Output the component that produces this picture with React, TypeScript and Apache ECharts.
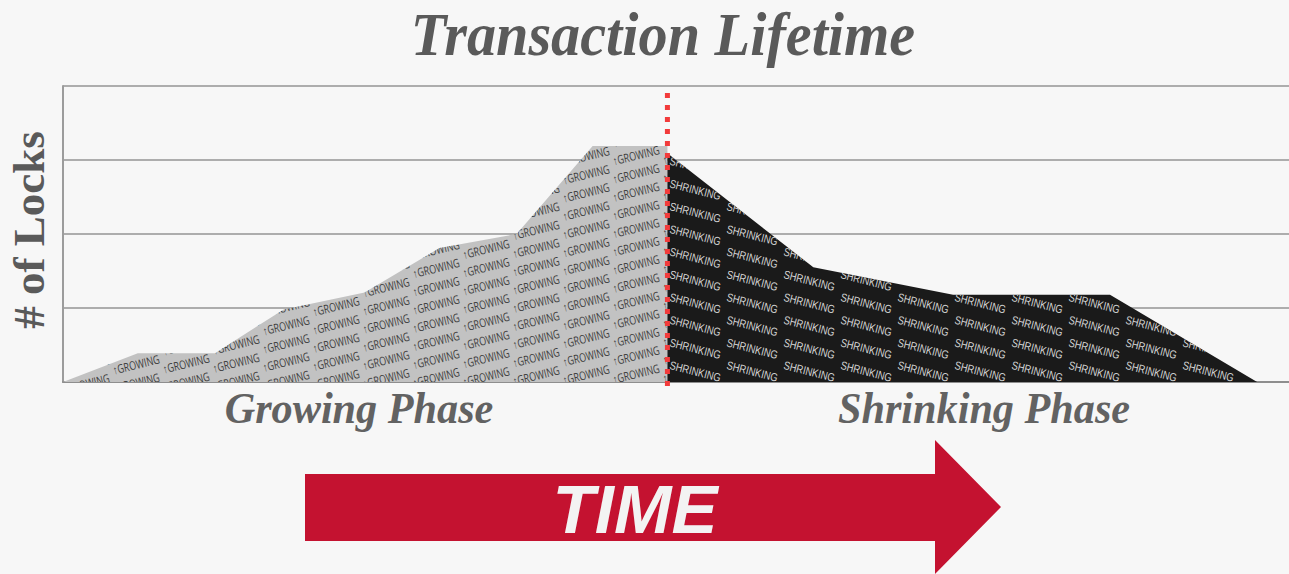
import React, { useEffect, useRef } from "react";
import * as echarts from "echarts";

// ---- data (time on x, number of locks held on y) ----
const growTime = [0, 6.1, 12.4, 18.0, 24.6, 30.7, 37.0, 43.2, 49.3];
const growLocks = [0, 0.39, 0.39, 0.98, 1.21, 1.81, 2.0, 3.19, 3.19];
const shrinkTime = [49.3, 61.2, 72.6, 85.4, 97.4];
const shrinkLocks = [3.09, 1.55, 1.18, 1.18, 0];
const lockPoint = 49.3; // end of growing phase
const lockTicks = { min: 0, max: 4, interval: 1 };
const timeRange = { min: 0, max: 100 };

const TITLE = "Transaction Lifetime";
const Y_NAME = "# of Locks";
const PHASES = ["Growing Phase", "Shrinking Phase"];
const ARROW_TEXT = "TIME";

const PAGE_W = 1289;

function inside(px: number, py: number, poly: number[][]) {
  let c = false;
  for (let i = 0, j = poly.length - 1; i < poly.length; j = i++) {
    const [xi, yi] = poly[i];
    const [xj, yj] = poly[j];
    if (yi > py !== yj > py && px < ((xj - xi) * (py - yi)) / (yj - yi) + xi) c = !c;
  }
  return c;
}

type Pat = {
  fill: string;
  text: string;
  textColor: string;
  fontFamily: string;
  fontSize: number;
  scaleX: number;
  width: number;
  ox: number;
  oy: number;
  dx: number;
  dy: number;
  skew: number;
  rotation: number;
};

function makeRenderItem(xs: number[], ys: number[], pat: Pat) {
  return (params: any, api: any) => {
    if (params.dataIndex !== 0) return null;
    const pts = xs.map((x, i) => api.coord([x, ys[i]]));
    const poly = [api.coord([xs[0], 0]), ...pts, api.coord([xs[xs.length - 1], 0])];
    const minX = Math.min(...poly.map((p) => p[0]));
    const maxX = Math.max(...poly.map((p) => p[0]));
    const minY = Math.min(...poly.map((p) => p[1]));
    const maxY = Math.max(...poly.map((p) => p[1]));
    const texts: any[] = [];
    const c0 = Math.floor((minX - pat.width - pat.ox) / pat.dx) - 1;
    const c1 = Math.ceil((maxX - pat.ox) / pat.dx) + 1;
    const cs = Math.cos(pat.rotation);
    const sn = Math.sin(pat.rotation);
    for (let c = c0; c <= c1; c++) {
      const x = pat.ox + pat.dx * c;
      if (x + pat.width * cs > PAGE_W - 4) continue;
      const yBase = pat.oy + pat.skew * c;
      for (let k = -40; k <= 40; k++) {
        const y = yBase + pat.dy * k;
        if (y < minY - 30 || y > maxY + 30) continue;
        let hit = false;
        for (let a = 0; a <= 1.001 && !hit; a += 0.125) {
          for (const off of [-6, 0, 6]) {
            const lx = a * pat.width;
            const px = x + lx * cs + off * sn;
            const py = y - lx * sn + off * cs;
            if (inside(px, py, poly)) {
              hit = true;
              break;
            }
          }
        }
        if (!hit) continue;
        texts.push({
          type: "text",
          x,
          y,
          rotation: pat.rotation,
          scaleX: pat.scaleX,
          silent: true,
          style: {
            text: pat.text,
            x: 0,
            y: 0,
            fill: pat.textColor,
            fontSize: pat.fontSize,
            fontFamily: pat.fontFamily,
            textAlign: "left",
            align: "left",
            textVerticalAlign: "middle",
            verticalAlign: "middle",
          },
        });
      }
    }
    return {
      type: "group",
      children: [
        { type: "polygon", shape: { points: poly }, style: { fill: pat.fill }, silent: true },
        {
          type: "group",
          clipPath: { type: "polygon", shape: { points: poly } },
          children: texts,
        },
      ],
    };
  };
}

const growPat: Pat = {
  fill: "#c2c2c2",
  text: "↑GROWING",
  textColor: "#3c3c3c",
  fontFamily: "Open Sans",
  fontSize: 12,
  scaleX: 0.75,
  width: 47,
  ox: 63,
  oy: 371,
  dx: 50,
  dy: -18.2,
  skew: -0.9,
  rotation: 0.24,
};

const shrinkPat: Pat = {
  fill: "#1a1a1a",
  text: "SHRINKING",
  textColor: "#d4d4d4",
  fontFamily: "Liberation Sans",
  fontSize: 11.5,
  scaleX: 0.82,
  width: 53,
  ox: 670,
  oy: 183,
  dx: 57,
  dy: 22.7,
  skew: 0,
  rotation: -0.25,
};

export default function App() {
  const ref = useRef<HTMLDivElement>(null);
  useEffect(() => {
    if (!ref.current) return;
    const chart = echarts.init(ref.current, null, { renderer: "svg" });
    const serif = "'Liberation Serif', 'Times New Roman', serif";
    const option: any = {
      animation: false,
      backgroundColor: "#f7f7f7",
      grid: { left: 63, right: 0, top: 86, bottom: 192, containLabel: false },
      xAxis: {
        type: "value",
        min: timeRange.min,
        max: timeRange.max,
        axisLine: { show: true, lineStyle: { color: "#8e8e8e", width: 2 } },
        axisTick: { show: false },
        axisLabel: { show: false },
        splitLine: { show: false },
      },
      yAxis: {
        type: "value",
        min: lockTicks.min,
        max: lockTicks.max,
        interval: lockTicks.interval,
        axisLine: { show: true, lineStyle: { color: "#9c9c9c", width: 2 } },
        axisTick: { show: false },
        axisLabel: { show: false },
        splitLine: { show: true, lineStyle: { color: "#adadad", width: 2 } },
      },
      series: [
        {
          type: "custom",
          name: "Growing",
          coordinateSystem: "cartesian2d",
          data: [[0, 0]],
          renderItem: makeRenderItem(growTime, growLocks, growPat),
          silent: true,
        },
        {
          type: "custom",
          name: "Shrinking",
          coordinateSystem: "cartesian2d",
          data: [[0, 0]],
          renderItem: makeRenderItem(shrinkTime, shrinkLocks, shrinkPat),
          silent: true,
        },
        {
          type: "line",
          name: "Lock point",
          data: [
            [lockPoint, 3.905],
            [lockPoint, -0.07],
          ],
          symbol: "none",
          clip: false,
          silent: true,
          z: 5,
          lineStyle: { color: "#f23b3b", width: 5, type: [5, 7], cap: "butt" },
        },
      ],
      graphic: [
        {
          type: "text",
          x: 663,
          y: 34,
          scaleX: 0.94,
          style: {
            text: TITLE,
            x: 0,
            y: 0,
            fill: "#5a5a5a",
            font: `italic bold 62px ${serif}`,
            textAlign: "center",
            textVerticalAlign: "middle",
          },
        },
        {
          type: "text",
          x: 29,
          y: 230,
          rotation: Math.PI / 2,
          style: {
            text: Y_NAME,
            x: 0,
            y: 0,
            fill: "#5a5a5a",
            font: `bold 45px ${serif}`,
            textAlign: "center",
            textVerticalAlign: "middle",
          },
        },
        {
          type: "text",
          x: 359,
          y: 408,
          scaleX: 0.96,
          style: {
            text: PHASES[0],
            x: 0,
            y: 0,
            fill: "#626262",
            font: `italic bold 44px ${serif}`,
            textAlign: "center",
            textVerticalAlign: "middle",
          },
        },
        {
          type: "text",
          x: 984,
          y: 408,
          scaleX: 0.96,
          style: {
            text: PHASES[1],
            x: 0,
            y: 0,
            fill: "#626262",
            font: `italic bold 44px ${serif}`,
            textAlign: "center",
            textVerticalAlign: "middle",
          },
        },
        {
          type: "polygon",
          shape: {
            points: [
              [305, 474],
              [935, 474],
              [935, 440],
              [1001, 507],
              [935, 574],
              [935, 541],
              [305, 541],
            ],
          },
          style: { fill: "#c41230" },
        },
        {
          type: "text",
          x: 635,
          y: 509,
          style: {
            text: ARROW_TEXT,
            x: 0,
            y: 0,
            fill: "#f3f3f3",
            font: "italic bold 69px 'Liberation Sans', Arial, sans-serif",
            textAlign: "center",
            textVerticalAlign: "middle",
          },
        },
      ],
    };
    chart.setOption(option);
    return () => chart.dispose();
  }, []);
  return (
    <div
      ref={ref}
      style={{ position: "fixed", left: 0, top: 0, width: 1289, height: 574 }}
    />
  );
}
